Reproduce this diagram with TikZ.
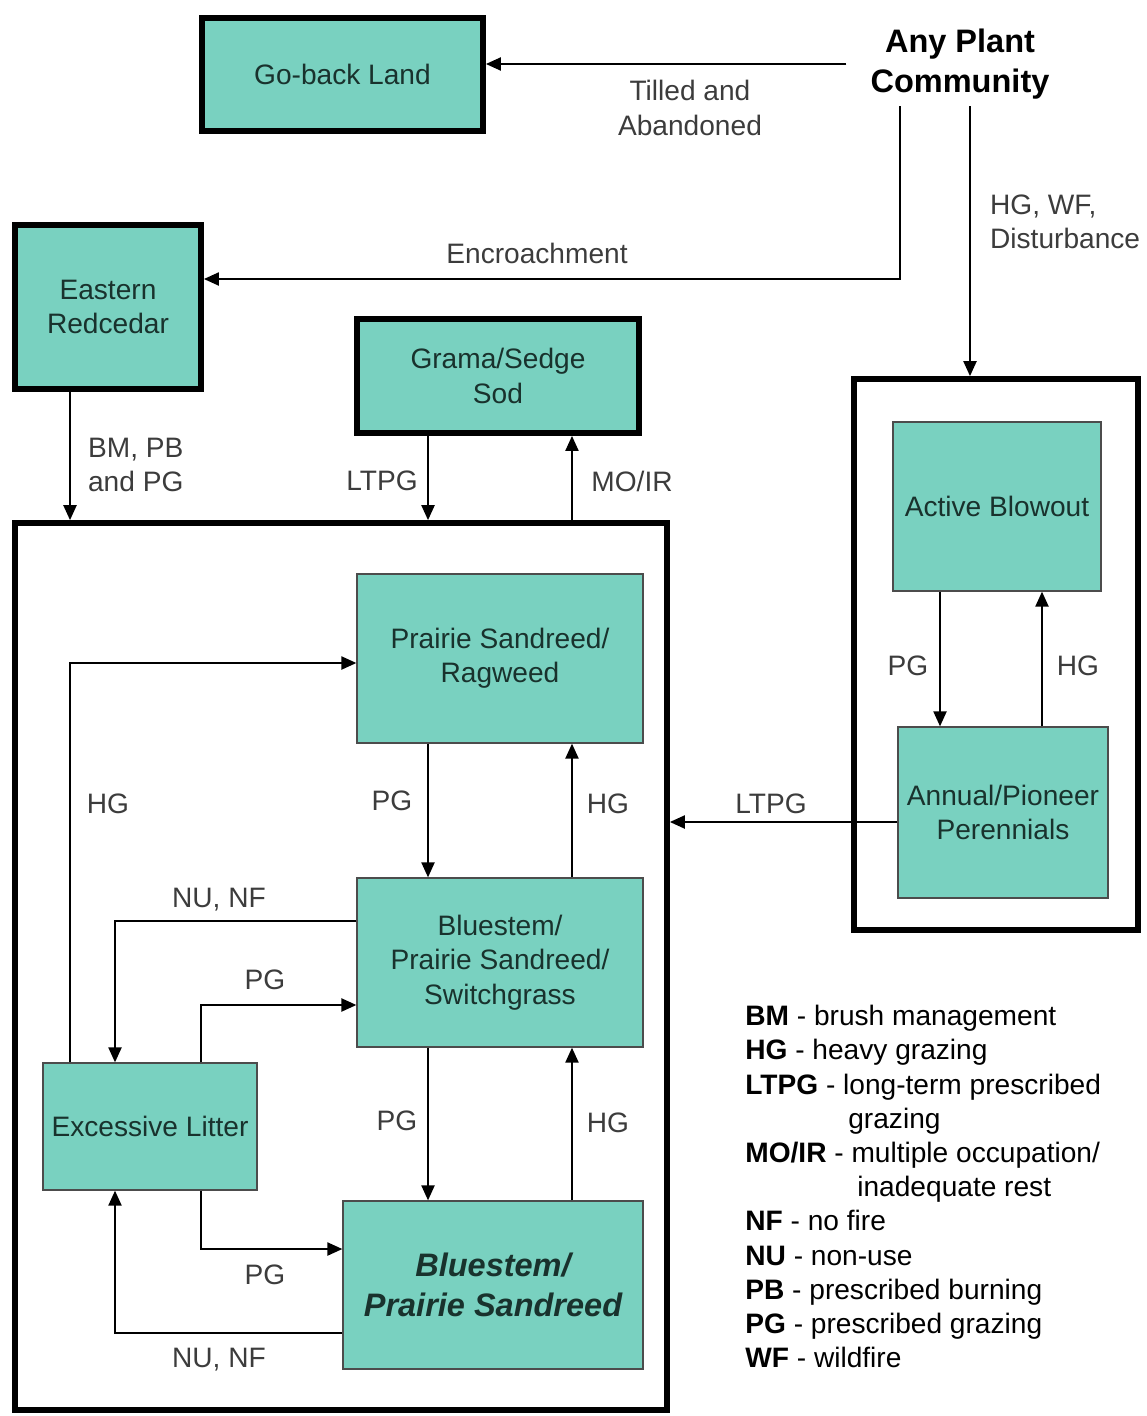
\documentclass[tikz,border=0pt]{standalone}
\usepackage{fontspec}
\setmainfont{Liberation Sans}
\usetikzlibrary{arrows.meta}

\definecolor{boxteal}{RGB}{121,209,192}
\definecolor{boxtext}{RGB}{25,50,45}
\definecolor{labelgray}{RGB}{60,60,60}

\begin{document}
\begin{tikzpicture}[
        x=0.02cm, y=-0.02cm,
        state/.style={rectangle, draw=black!70, line width=0.8pt, fill=boxteal, inner sep=0pt, align=center, text=boxtext, font=\fontsize{16}{19.5}\selectfont},
        thickstate/.style={state, draw=black, line width=3.4pt},
        container/.style={rectangle, draw=black, line width=3.4pt, inner sep=0pt},
        trans/.style={-{Triangle[length=8.5pt,width=7.5pt]}, line width=0.9pt},
        lbl/.style={text=labelgray, align=center, inner sep=1pt, font=\fontsize{16}{19.5}\selectfont},
        legend/.style={anchor=west, inner sep=0pt, text height=11.5pt, text depth=3.5pt, font=\fontsize{16}{19.5}\selectfont}
    ]
        \useasboundingbox (0,0) rectangle (1146,1416);

        % containers
        \node[container, minimum width=13.04cm, minimum height=17.74cm] (main) at (341,966.5) {};
        \node[container, minimum width=5.68cm, minimum height=11.02cm] (rcont) at (996,654.5) {};

        % states outside
        \node[thickstate, minimum width=5.62cm, minimum height=2.26cm] (gbl) at (342.5,74.5) {Go-back Land};
        \node[align=center, inner xsep=0.48cm, inner ysep=4pt, font=\bfseries\fontsize{18.5}{22.5}\selectfont] (apc) at (960,64) {Any Plant\\Community};
        \node[thickstate, minimum width=3.72cm, minimum height=3.28cm] (ecr) at (108,307) {Eastern\\Redcedar};
        \node[thickstate, minimum width=5.64cm, minimum height=2.28cm] (gss) at (498,376) {Grama/Sedge\\Sod};

        % right container states
        \node[state, minimum width=4.16cm, minimum height=3.38cm] (abo) at (997,506.5) {Active Blowout};
        \node[state, minimum width=4.2cm, minimum height=3.42cm] (app) at (1003,812.5) {Annual/Pioneer\\Perennials};

        % main container states
        \node[state, minimum width=5.72cm, minimum height=3.38cm] (psr) at (500,658.5) {Prairie Sandreed/\\Ragweed};
        \node[state, minimum width=5.72cm, minimum height=3.38cm] (bps) at (500,962.5) {Bluestem/\\Prairie Sandreed/\\Switchgrass};
        \node[state, minimum width=4.28cm, minimum height=2.54cm] (exl) at (150,1126.5) {Excessive Litter};
        \node[state, minimum width=6.0cm, minimum height=3.36cm, font=\bfseries\itshape\fontsize{18.5}{22.5}\selectfont] (ref) at (493,1285) {Bluestem/\\Prairie Sandreed};

        % transitions from Any Plant Community
        \draw[trans] (apc.west) -- (apc.west -| gbl.east);
        \draw[trans] ([xshift=-1.2cm]apc.south) |- ([yshift=0.56cm]ecr.east);
        \draw[trans] ([xshift=0.2cm]apc.south) -- ([xshift=0.2cm]apc.south |- rcont.north);

        % into and out of main container
        \draw[trans] ([xshift=-0.76cm]ecr.south) -- ([xshift=-0.76cm]ecr.south |- main.north);
        \draw[trans] ([xshift=-1.4cm]gss.south) -- ([xshift=-1.4cm]gss.south |- main.north);
        \draw[trans] ([xshift=1.48cm]gss.south |- main.north) -- ([xshift=1.48cm]gss.south);
        \draw[trans] ([yshift=-0.19cm]app.west) -- ([yshift=-0.19cm]app.west -| main.east);

        % right container
        \draw[trans] ([xshift=-1.14cm]abo.south) -- ([xshift=-1.14cm]abo.south |- app.north);
        \draw[trans] ([xshift=0.9cm]abo.south |- app.north) -- ([xshift=0.9cm]abo.south);

        % main container
        \draw[trans] ([xshift=-1.44cm]psr.south) -- ([xshift=-1.44cm]psr.south |- bps.north);
        \draw[trans] ([xshift=1.44cm]psr.south |- bps.north) -- ([xshift=1.44cm]psr.south);
        \draw[trans] ([xshift=-1.44cm]bps.south) -- ([xshift=-1.44cm]bps.south |- ref.north);
        \draw[trans] ([xshift=1.44cm]bps.south |- ref.north) -- ([xshift=1.44cm]bps.south);
        \draw[trans] ([xshift=-1.6cm]exl.north) |- ([yshift=-0.09cm]psr.west);
        \draw[trans] ([yshift=0.83cm]bps.west) -| ([xshift=-0.7cm]exl.north);
        \draw[trans] ([xshift=1.02cm]exl.north) |- ([yshift=-0.85cm]bps.west);
        \draw[trans] ([xshift=1.02cm]exl.south) |- ([yshift=0.72cm]ref.west);
        \draw[trans] ([yshift=-0.96cm]ref.west) -| ([xshift=-0.7cm]exl.south);

        % transition labels
        \node[lbl] (lta) at (690,108) {Tilled and\\Abandoned};
        \node[lbl] (lenc) at (537,253) {Encroachment};
        \node[lbl, anchor=west, align=left] (lhgwf) at (988,222) {HG, WF,\\Disturbance};
        \node[lbl, anchor=west, align=left] (lbm) at (86,465) {BM, PB\\and PG};
        \node[lbl] (lltpg1) at (382,481) {LTPG};
        \node[lbl] (lmoir) at (632,481) {MO/IR};
        \node[lbl] (lltpg2) at (771,804) {LTPG};
        \node[lbl] (lpg1) at (908,666) {PG};
        \node[lbl] (lhg1) at (1078,666) {HG};
        \node[lbl] (lpg2) at (392,801) {PG};
        \node[lbl] (lhg2) at (608,804) {HG};
        \node[lbl] (lpg3) at (397,1121) {PG};
        \node[lbl] (lhg3) at (608,1123) {HG};
        \node[lbl] (lhg4) at (108,804) {HG};
        \node[lbl] (lnunf1) at (219,900) {NU, NF};
        \node[lbl] (lpg4) at (265,980) {PG};
        \node[lbl] (lpg5) at (265,1275) {PG};
        \node[lbl] (lnunf2) at (219,1360) {NU, NF};

        % legend
        \node[legend] (leg1) at (745,1018) {\textbf{BM} - brush management};
        \node[legend] (leg2) at (745,1052) {\textbf{HG} - heavy grazing};
        \node[legend] (leg3) at (745,1087) {\textbf{LTPG} - long-term prescribed};
        \node[legend] (leg3b) at (848,1121) {grazing};
        \node[legend] (leg4) at (745,1155) {\textbf{MO/IR} - multiple occupation/};
        \node[legend] (leg4b) at (857,1189) {inadequate rest};
        \node[legend] (leg5) at (745,1223) {\textbf{NF} - no fire};
        \node[legend] (leg6) at (745,1258) {\textbf{NU} - non-use};
        \node[legend] (leg7) at (745,1292) {\textbf{PB} - prescribed burning};
        \node[legend] (leg8) at (745,1326) {\textbf{PG} - prescribed grazing};
        \node[legend] (leg9) at (745,1360) {\textbf{WF} - wildfire};
    \end{tikzpicture}
\end{document}
